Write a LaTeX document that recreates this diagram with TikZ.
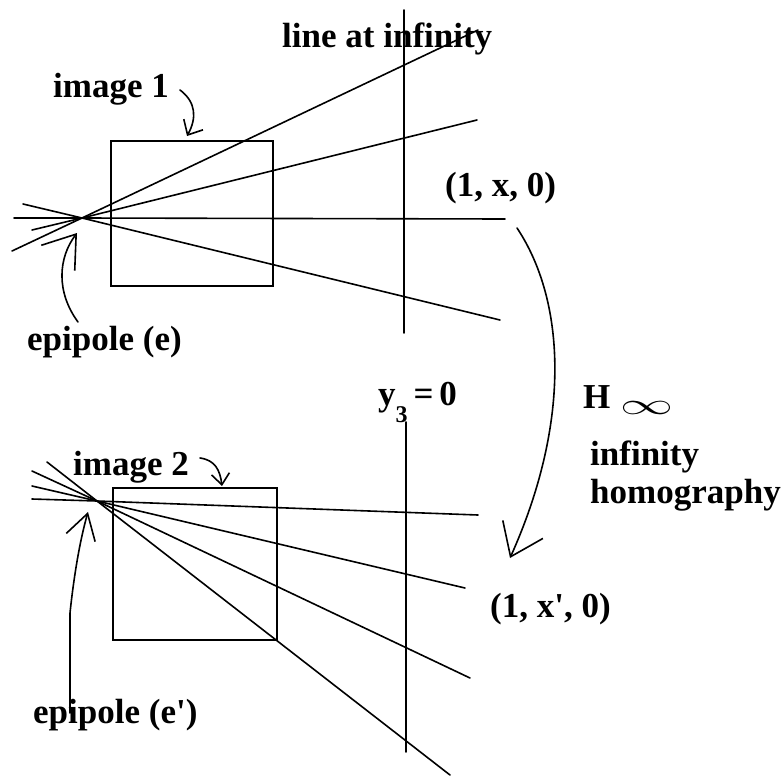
\documentclass[tikz,border=0pt]{standalone}
\usepackage{fontspec}
\setmainfont{Liberation Serif}
\usetikzlibrary{arrows.meta}
\begin{document}
\begin{tikzpicture}[x=1pt,y=-1pt,
  ln/.style={line width=1.6pt, line cap=round},
  lbl/.style={font=\bfseries\fontsize{35}{40}\selectfont, inner sep=0pt, anchor=base west},
  ptr/.style={ln, line join=round}]
\useasboundingbox (0,0) rectangle (783,779);

% ---------- top: image 1 ----------
\coordinate (e1) at (82,218);
\coordinate (a1) at (12,251);  \coordinate (b1) at (478,30);
\coordinate (a2) at (32,230);  \coordinate (b2) at (477,120);
\coordinate (a3) at (14,218);  \coordinate (b3) at (505,219);
\coordinate (a4) at (23,204);  \coordinate (b4) at (500,320);
\coordinate (v1t) at (404,10); \coordinate (v1b) at (404,333);

\draw[ln] (111,141) rectangle (273,286);
\draw[ln] (v1t) -- (v1b);
\draw[ln] (a1) -- (e1) -- (b1);
\draw[ln] (a2) -- (e1) -- (b2);
\draw[ln] (a3) -- (e1) -- (b3);
\draw[ln] (a4) -- (e1) -- (b4);

\node[lbl] (tline) at (282,47) {line at infinity};
\node[lbl] (timg1) at (53,97) {image 1};
\node[lbl] (tepi1) at (27,350) {epipole (e)};
\node[lbl] (tp1) at (445,196) {(1, x, 0)};

% ---------- bottom: image 2 ----------
\coordinate (e2) at (97,501);
\coordinate (c1) at (32,499);  \coordinate (d1) at (478,515);
\coordinate (c2) at (32,486);  \coordinate (d2) at (465,588);
\coordinate (c3) at (32,471);  \coordinate (d3) at (470,678);
\coordinate (c4) at (47,462);  \coordinate (d4) at (450,775);
\coordinate (v2t) at (406,422); \coordinate (v2b) at (406,752);

\draw[ln] (113,488) rectangle (277,640);
\draw[ln] (v2t) -- (v2b);
\draw[ln] (c1) -- (e2) -- (d1);
\draw[ln] (c2) -- (e2) -- (d2);
\draw[ln] (c3) -- (e2) -- (d3);
\draw[ln] (c4) -- (e2) -- (d4);

\node[lbl] (ty3) at (378,405) {y\raisebox{-17pt}{\fontsize{24}{24}\selectfont 3}\,=\,0};
\node[lbl] (timg2) at (73,475) {image 2};
\node[lbl] (tepi2) at (33,723) {epipole (e\textquotesingle)};
\node[lbl] (tp2) at (490,617) {(1, x\textquotesingle, 0)};

% ---------- right: homography ----------
\node[lbl] (tH) at (583,408) {H};
\node[inner sep=0pt, anchor=west] (tinf) at (620,408) {\resizebox{53pt}{13pt}{$\infty$}};
\node[lbl] (tinfty) at (590,465) {infinity};
\node[lbl] (thomog) at (590,503) {homography};

% ---------- pointers ----------
\coordinate (i1s) at (180,90);  \coordinate (i1e) at (187,136);
\draw[ptr, -{Straight Barb[length=12pt,width=22pt]}] (i1s) .. controls (196,102) and (197,118) .. (i1e);
\coordinate (i2s) at (200,458); \coordinate (i2e) at (222,486);
\draw[ptr, -{Straight Barb[length=11pt,width=18pt]}] (i2s) .. controls (215,460) and (220,470) .. (i2e);

\coordinate (p1s) at (78,322); \coordinate (p1e) at (77,233);
\draw[ptr, -{Straight Barb[length=30pt,width=42pt]}] (p1s) .. controls (56,292) and (58,258) .. (p1e);
\coordinate (p2s) at (70,713); \coordinate (p2e) at (88,512);
\draw[ptr, -{Straight Barb[length=25pt,width=30pt]}] (p2s) -- (70,613) .. controls (74,575) and (80,540) .. (p2e);

\coordinate (hs) at (517,228); \coordinate (he) at (510,558);
\draw[ptr, -{Straight Barb[length=30pt,width=44pt]}] (hs) .. controls (565,300) and (572,420) .. (he);
\end{tikzpicture}
\end{document}
